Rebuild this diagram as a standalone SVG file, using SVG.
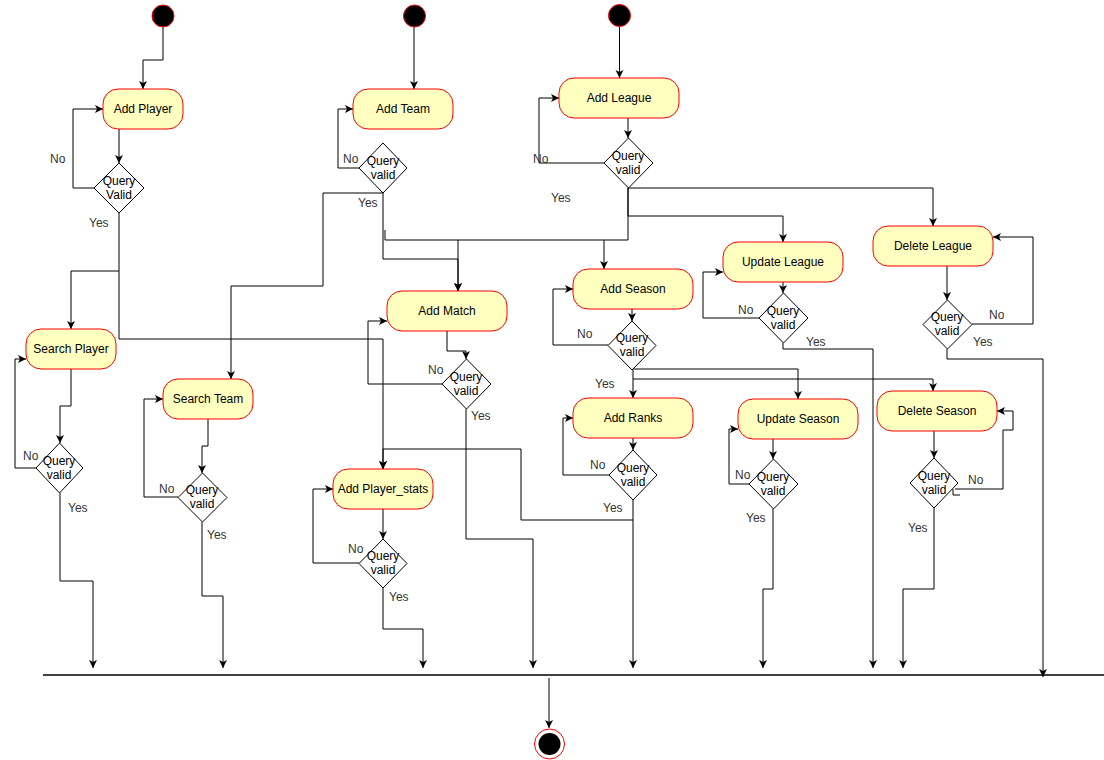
<svg xmlns="http://www.w3.org/2000/svg" width="1104" height="760" viewBox="0 0 1104 760">
<style>
.act{fill:#ffffc0;stroke:#ff0000;stroke-width:1}
.dec{fill:#ffffff;stroke:#000000;stroke-width:1}
.ln{fill:none;stroke:#000000;stroke-width:1}
.t{font-family:"Liberation Sans",Arial,sans-serif;font-size:12px;fill:#000000;text-anchor:middle}
.lb{font-family:"Liberation Sans",Arial,sans-serif;font-size:12px;fill:#333333}
.st{fill:#000000;stroke:#ff0000;stroke-width:1}
</style>
<defs>
<marker id="a" markerWidth="10" markerHeight="10" refX="8" refY="4" orient="auto" markerUnits="userSpaceOnUse"><path d="M0,0 L8,4 L0,8 L2,4 z" fill="#000"/></marker>
</defs>
<rect width="1104" height="760" fill="#ffffff"/>

<g id="connectors" class="ln">
<path d="M163,27 V60 H143 V89" marker-end="url(#a)"/>
<path d="M119,129 V163" marker-end="url(#a)"/>
<path d="M94,188 H73 V109 H103" marker-end="url(#a)"/>
<path d="M119,213 V271 H71 V329" marker-end="url(#a)"/>
<path d="M119,271 V339 H383 V469" marker-end="url(#a)"/>
<path d="M71,369 V406 H60 V443" marker-end="url(#a)"/>
<path d="M36,468 H15 V359 H26" marker-end="url(#a)"/>
<path d="M60,493 V581 H93 V668" marker-end="url(#a)"/>
<path d="M414,27 V89" marker-end="url(#a)"/>
<path d="M619.5,27 V78" marker-end="url(#a)"/>
<path d="M359,168 H338 V109 H353" marker-end="url(#a)"/>
<path d="M383,193 H323 V286 H231 V379" marker-end="url(#a)"/>
<path d="M383,193 V259 H458 V291" marker-end="url(#a)"/>
<path d="M628,118 V138" marker-end="url(#a)"/>
<path d="M604,163 H539 V98 H559" marker-end="url(#a)"/>
<path d="M628,188 H933 V226" marker-end="url(#a)"/>
<path d="M628,188 V216 H783 V242" marker-end="url(#a)"/>
<path d="M628,188 V240 H385 V230"/>
<path d="M604,240 V269" marker-end="url(#a)"/>
<path d="M458,240 V291" marker-end="url(#a)"/>
<path d="M447,331 V351 H466 V359" marker-end="url(#a)"/>
<path d="M442,384 H368 V321 H387" marker-end="url(#a)"/>
<path d="M466,409 V539 H533 V668" marker-end="url(#a)"/>
<path d="M383,509 V539" marker-end="url(#a)"/>
<path d="M359,563 H313 V489 H333" marker-end="url(#a)"/>
<path d="M383,588 V629 H423 V668" marker-end="url(#a)"/>
<path d="M208,419 V446 H202 V473" marker-end="url(#a)"/>
<path d="M178,497 H144 V399 H163" marker-end="url(#a)"/>
<path d="M202,522 V596 H223 V668" marker-end="url(#a)"/>
<path d="M632,309 V321" marker-end="url(#a)"/>
<path d="M608,345 H553 V289 H573" marker-end="url(#a)"/>
<path d="M633,370 V398" marker-end="url(#a)"/>
<path d="M633,369 H798 V399" marker-end="url(#a)"/>
<path d="M633,379 H933 V391" marker-end="url(#a)"/>
<path d="M633,438 V450" marker-end="url(#a)"/>
<path d="M609,475 H563 V418 H573" marker-end="url(#a)"/>
<path d="M633,500 V668" marker-end="url(#a)"/>
<path d="M633,520 H521 V449 H383 V469" marker-end="url(#a)"/>
<path d="M783,282 V293" marker-end="url(#a)"/>
<path d="M759,318 H703 V272 H723" marker-end="url(#a)"/>
<path d="M783,343 V349 H873 V668" marker-end="url(#a)"/>
<path d="M947,266 V300" marker-end="url(#a)"/>
<path d="M972,324 H1033 V237 H993" marker-end="url(#a)"/>
<path d="M947,349 V359 H1043 V677" marker-end="url(#a)"/>
<path d="M773,439 V459" marker-end="url(#a)"/>
<path d="M749,484 H729 V429 H738" marker-end="url(#a)"/>
<path d="M773,509 V589 H763 V668" marker-end="url(#a)"/>
<path d="M934,431 V458" marker-end="url(#a)"/>
<path d="M955,489 H1003 V430 H1013 V411 H997" marker-end="url(#a)"/>
<path d="M953,489 V495 H960"/>
<path d="M934,508 V589 H903 V668" marker-end="url(#a)"/>
<path d="M549,678 V728" marker-end="url(#a)"/>
</g>

<g id="bar"><line x1="43" y1="675" x2="1104" y2="675" stroke="#000" stroke-width="1.5"/></g>

<g id="start1"><circle class="st" cx="163" cy="16" r="11"/></g>
<g id="start2"><circle class="st" cx="414.5" cy="16" r="11"/></g>
<g id="start3"><circle class="st" cx="619.5" cy="15.5" r="11"/></g>
<g id="end"><circle cx="549.5" cy="744" r="15" fill="#fff" stroke="#ff0000" stroke-width="1"/><circle cx="549.5" cy="744" r="11" fill="#000"/></g>

<g id="addPlayer"><rect class="act" x="103" y="89" width="80" height="40" rx="15"/><text class="t" x="143" y="113">Add Player</text></g>
<g id="addTeam"><rect class="act" x="353" y="89" width="100" height="40" rx="15"/><text class="t" x="403" y="113">Add Team</text></g>
<g id="addLeague"><rect class="act" x="559" y="78" width="120" height="40" rx="15"/><text class="t" x="619" y="102">Add League</text></g>
<g id="deleteLeague"><rect class="act" x="873" y="226" width="120" height="40" rx="15"/><text class="t" x="933" y="250">Delete League</text></g>
<g id="updateLeague"><rect class="act" x="723" y="242" width="120" height="40" rx="15"/><text class="t" x="783" y="266">Update League</text></g>
<g id="addSeason"><rect class="act" x="573" y="269" width="120" height="40" rx="15"/><text class="t" x="633" y="293">Add Season</text></g>
<g id="addMatch"><rect class="act" x="387" y="291" width="120" height="40" rx="15"/><text class="t" x="447" y="315">Add Match</text></g>
<g id="searchPlayer"><rect class="act" x="26" y="329" width="90" height="40" rx="15"/><text class="t" x="71" y="353">Search Player</text></g>
<g id="searchTeam"><rect class="act" x="163" y="379" width="90" height="40" rx="15"/><text class="t" x="208" y="403">Search Team</text></g>
<g id="addPlayerStats"><rect class="act" x="333" y="469" width="100" height="40" rx="15"/><text class="t" x="383" y="493">Add Player_stats</text></g>
<g id="addRanks"><rect class="act" x="573" y="398" width="120" height="40" rx="15"/><text class="t" x="633" y="422">Add Ranks</text></g>
<g id="updateSeason"><rect class="act" x="738" y="399" width="120" height="40" rx="15"/><text class="t" x="798" y="423">Update Season</text></g>
<g id="deleteSeason"><rect class="act" x="877" y="391" width="120" height="40" rx="15"/><text class="t" x="937" y="415">Delete Season</text></g>

<g id="dPlayer"><polygon class="dec" points="119,163 144,188 119,213 94,188"/><text class="t" x="119" y="185">Query</text><text class="t" x="119" y="199">Valid</text></g>
<g id="dTeam"><polygon class="dec" points="383,143 407,168 383,193 359,168"/><text class="t" x="383" y="165">Query</text><text class="t" x="383" y="179">valid</text></g>
<g id="dLeague"><polygon class="dec" points="628.5,138 653,163 628.5,188 604,163"/><text class="t" x="628" y="160">Query</text><text class="t" x="628" y="174">valid</text></g>
<g id="dDeleteLeague"><polygon class="dec" points="947.5,300 972,324.5 947.5,349 923,324.5"/><text class="t" x="947" y="321">Query</text><text class="t" x="947" y="335">valid</text></g>
<g id="dUpdateLeague"><polygon class="dec" points="783.5,293 808,318 783.5,343 759,318"/><text class="t" x="783" y="315">Query</text><text class="t" x="783" y="329">valid</text></g>
<g id="dSeason"><polygon class="dec" points="632,321 656,345.5 632,370 608,345.5"/><text class="t" x="632" y="342">Query</text><text class="t" x="632" y="356">valid</text></g>
<g id="dMatch"><polygon class="dec" points="466.5,359 491,384 466.5,409 442,384"/><text class="t" x="466" y="381">Query</text><text class="t" x="466" y="395">valid</text></g>
<g id="dSearchPlayer"><polygon class="dec" points="59.5,443 83,468 59.5,493 36,468"/><text class="t" x="59" y="465">Query</text><text class="t" x="59" y="479">valid</text></g>
<g id="dSearchTeam"><polygon class="dec" points="202.5,473 227,497.5 202.5,522 178,497.5"/><text class="t" x="202" y="494">Query</text><text class="t" x="202" y="508">valid</text></g>
<g id="dPlayerStats"><polygon class="dec" points="383,539 407,563.5 383,588 359,563.5"/><text class="t" x="383" y="560">Query</text><text class="t" x="383" y="574">valid</text></g>
<g id="dRanks"><polygon class="dec" points="633,450 657,475 633,500 609,475"/><text class="t" x="633" y="472">Query</text><text class="t" x="633" y="486">valid</text></g>
<g id="dUpdateSeason"><polygon class="dec" points="773.5,459 798,484 773.5,509 749,484"/><text class="t" x="773" y="481">Query</text><text class="t" x="773" y="495">valid</text></g>
<g id="dDeleteSeason"><polygon class="dec" points="934,458 958,483 934,508 910,483"/><text class="t" x="934" y="480">Query</text><text class="t" x="934" y="494">valid</text></g>

<g id="labels" class="lb">
<text x="50" y="163">No</text>
<text x="89" y="227">Yes</text>
<text x="343" y="163">No</text>
<text x="358" y="207">Yes</text>
<text x="533" y="163">No</text>
<text x="551" y="202">Yes</text>
<text x="23" y="460">No</text>
<text x="68" y="512">Yes</text>
<text x="159" y="493">No</text>
<text x="207" y="539">Yes</text>
<text x="428" y="374">No</text>
<text x="471" y="420">Yes</text>
<text x="348" y="553">No</text>
<text x="389" y="601">Yes</text>
<text x="577" y="338">No</text>
<text x="595" y="388">Yes</text>
<text x="590" y="469">No</text>
<text x="603" y="512">Yes</text>
<text x="738" y="314">No</text>
<text x="806" y="346">Yes</text>
<text x="989" y="319">No</text>
<text x="973" y="346">Yes</text>
<text x="735" y="479">No</text>
<text x="746" y="522">Yes</text>
<text x="968" y="484">No</text>
<text x="908" y="532">Yes</text>
</g>
</svg>
